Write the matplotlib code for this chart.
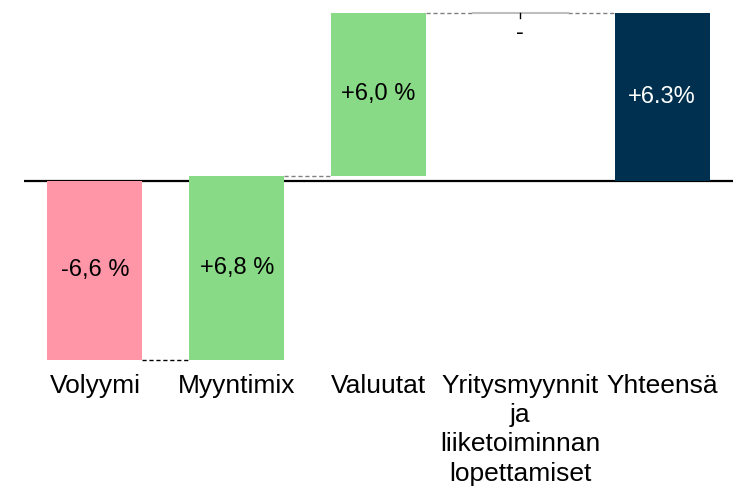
import matplotlib
matplotlib.use("Agg")
import matplotlib.pyplot as plt

plt.rcParams['font.family'] = ['Liberation Sans', 'DejaVu Sans']

categories = ["Volyymi", "Myyntimix", "Valuutat",
              "Yritysmyynnit\nja\nliiketoiminnan\nlopettamiset", "Yhteensä"]
changes = [-6.6, 6.8, 6.0, 0.0]
value_labels = ["-6,6 %", "+6,8 %", "+6,0 %", "-", "+6.3%"]

neg_color = "#FF96A8"
pos_color = "#88DA86"
total_color = "#00304F"

fig = plt.figure(figsize=(7.49, 4.88), dpi=100)
ax = fig.add_axes([24/749, 0, 709/749, 1])
ax.set_xlim(-0.5, 4.5)
ax.set_ylim(-11.32, 6.674)
ax.axis('off')

width = 0.67
ax.axhline(0, color='black', lw=1.6, zorder=1)

starts = []
cum = 0.0
for v in changes:
    starts.append(cum)
    cum += v
total = cum

for i, (s, v) in enumerate(zip(starts, changes)):
    if v == 0:
        ax.plot([i - width/2, i + width/2], [s, s], color="#BFBFBF", lw=1.5, zorder=2)
        ax.plot([i, i], [s, s - 0.18], color='black', lw=1, zorder=3)
        ax.text(i, s - 0.75, value_labels[i], ha='center', va='center',
                fontsize=17, color='black', zorder=4)
    else:
        color = pos_color if v > 0 else neg_color
        ax.bar(i, v, bottom=s, width=width, color=color, zorder=2)
        ax.text(i, s + v/2, value_labels[i], ha='center', va='center',
                fontsize=17, color='black', zorder=4)

n = len(changes)
ax.bar(n, total, bottom=0, width=width, color=total_color, zorder=2)
ax.text(n, total/2, value_labels[n], ha='center', va='center', fontsize=17,
        color='white', zorder=4)

ends = [s + v for s, v in zip(starts, changes)]
conn_colors = ['black', '#808080', '#808080', '#808080']
for i, e in enumerate(ends):
    ax.plot([i + width/2, i + 1 - width/2], [e, e], color=conn_colors[i],
            lw=1, ls=(0, (3, 2)), zorder=1.5)

for i, c in enumerate(categories):
    ax.text(i, -7.1, c, ha='center', va='top', fontsize=19, linespacing=1.28)

fig.savefig("out.png", dpi=100)
